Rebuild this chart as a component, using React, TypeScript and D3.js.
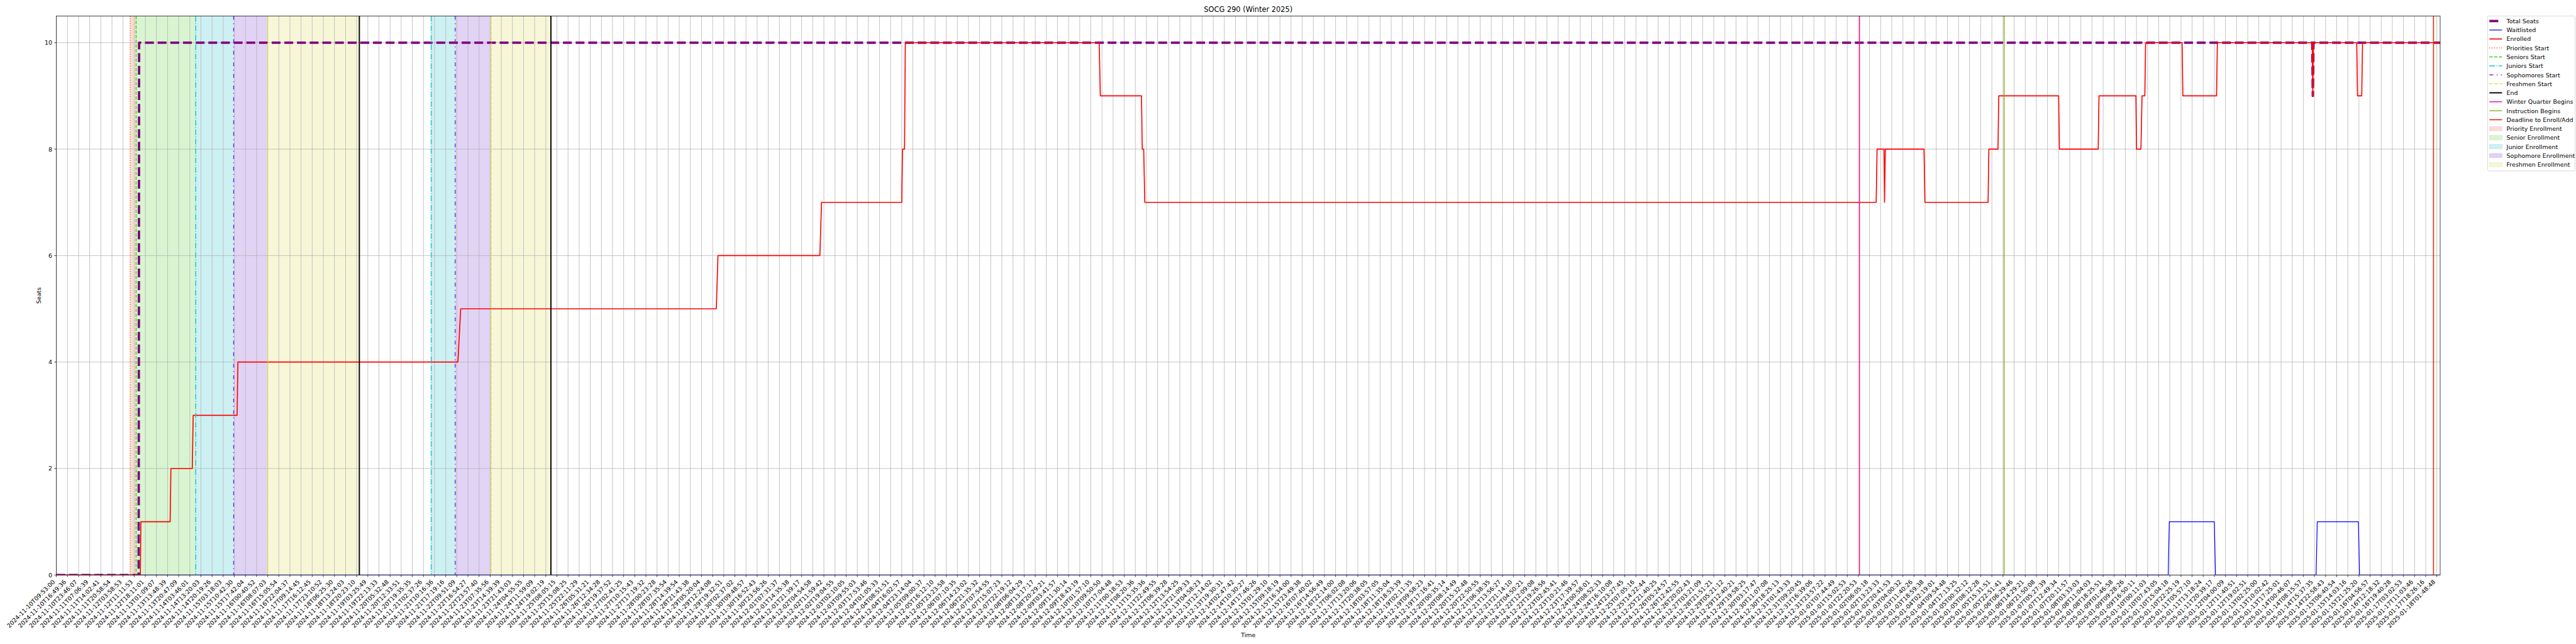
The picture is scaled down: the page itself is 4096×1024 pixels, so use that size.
import React, { useEffect, useRef } from "react";
import * as d3 from "d3";

// x tick labels, one per tick (ticks are evenly spaced sample positions)
const tickLabels = [
  "2024-11-10T09:53:00", "2024-11-10T16:49:36", "2024-11-10T23:46:07", "2024-11-11T07:06:39",
  "2024-11-11T14:02:41", "2024-11-11T20:58:54", "2024-11-12T03:58:53", "2024-11-12T11:11:53",
  "2024-11-12T18:11:01", "2024-11-13T01:09:07", "2024-11-13T13:48:39", "2024-11-13T20:47:09",
  "2024-11-14T03:46:01", "2024-11-14T13:20:03", "2024-11-14T20:19:26", "2024-11-15T03:18:03",
  "2024-11-15T10:42:30", "2024-11-15T17:42:04", "2024-11-16T00:40:52", "2024-11-16T08:07:03",
  "2024-11-16T15:05:54", "2024-11-16T22:04:37", "2024-11-17T09:14:45", "2024-11-17T16:12:45",
  "2024-11-17T23:10:52", "2024-11-18T06:25:30", "2024-11-18T13:24:03", "2024-11-18T20:23:10",
  "2024-11-19T03:25:49", "2024-11-19T22:13:33", "2024-11-20T05:32:48", "2024-11-20T12:33:51",
  "2024-11-20T19:35:35", "2024-11-21T02:37:26", "2024-11-21T10:16:36", "2024-11-21T17:19:16",
  "2024-11-22T09:51:09", "2024-11-22T16:54:27", "2024-11-22T23:57:40", "2024-11-23T07:35:56",
  "2024-11-23T14:39:39", "2024-11-23T21:43:03", "2024-11-24T04:55:55", "2024-11-24T11:59:09",
  "2024-11-24T19:02:19", "2024-11-25T08:05:15", "2024-11-25T15:08:25", "2024-11-25T22:11:29",
  "2024-11-26T05:31:21", "2024-11-26T12:34:28", "2024-11-26T19:37:52", "2024-11-27T02:41:25",
  "2024-11-27T10:15:43", "2024-11-27T17:19:32", "2024-11-28T00:23:28", "2024-11-28T07:35:54",
  "2024-11-28T14:39:54", "2024-11-28T21:43:38", "2024-11-29T05:20:04", "2024-11-29T12:24:08",
  "2024-11-29T19:32:51", "2024-11-30T02:37:02", "2024-11-30T09:48:57", "2024-11-30T16:52:43",
  "2024-11-30T23:56:26", "2024-12-01T07:31:37", "2024-12-01T14:35:38", "2024-12-01T21:39:17",
  "2024-12-02T04:54:58", "2024-12-02T11:59:42", "2024-12-02T19:04:55", "2024-12-03T02:10:05",
  "2024-12-03T09:55:03", "2024-12-03T17:53:46", "2024-12-04T01:05:33", "2024-12-04T08:51:51",
  "2024-12-04T16:02:57", "2024-12-04T23:14:04", "2024-12-05T09:00:37", "2024-12-05T16:12:10",
  "2024-12-05T23:23:58", "2024-12-06T07:10:35", "2024-12-06T14:23:02", "2024-12-06T21:35:32",
  "2024-12-07T07:54:55", "2024-12-07T15:07:23", "2024-12-07T22:19:12", "2024-12-08T06:04:29",
  "2024-12-08T13:17:17", "2024-12-08T20:29:21", "2024-12-09T03:41:57", "2024-12-09T11:30:14",
  "2024-12-09T18:43:19", "2024-12-10T01:57:10", "2024-12-10T09:50:50", "2024-12-10T17:04:48",
  "2024-12-11T00:18:53", "2024-12-11T08:20:36", "2024-12-11T15:35:36", "2024-12-11T22:49:55",
  "2024-12-12T06:39:28", "2024-12-12T13:54:25", "2024-12-12T21:09:33", "2024-12-13T04:58:23",
  "2024-12-13T12:14:02", "2024-12-13T19:30:31", "2024-12-14T02:47:42", "2024-12-14T10:30:27",
  "2024-12-14T17:46:26", "2024-12-15T01:29:10", "2024-12-15T09:18:19", "2024-12-15T16:34:00",
  "2024-12-15T23:49:38", "2024-12-16T07:40:02", "2024-12-16T14:56:49", "2024-12-16T22:14:00",
  "2024-12-17T06:02:08", "2024-12-17T13:20:06", "2024-12-17T20:38:05", "2024-12-18T03:57:05",
  "2024-12-18T11:35:04", "2024-12-18T18:53:39", "2024-12-19T02:11:35", "2024-12-19T09:58:23",
  "2024-12-19T17:16:41", "2024-12-20T00:35:14", "2024-12-20T08:14:49", "2024-12-20T15:32:48",
  "2024-12-20T22:50:55", "2024-12-21T06:38:35", "2024-12-21T13:56:27", "2024-12-21T21:14:10",
  "2024-12-22T04:50:21", "2024-12-22T12:09:08", "2024-12-22T19:26:56", "2024-12-23T02:45:41",
  "2024-12-23T10:21:46", "2024-12-23T17:39:57", "2024-12-24T00:58:01", "2024-12-24T08:52:33",
  "2024-12-24T16:10:08", "2024-12-24T23:27:45", "2024-12-25T07:05:16", "2024-12-25T14:22:44",
  "2024-12-25T21:40:25", "2024-12-26T05:24:57", "2024-12-26T12:42:55", "2024-12-26T20:02:43",
  "2024-12-27T03:21:09", "2024-12-28T21:51:21", "2024-12-29T05:21:12", "2024-12-29T12:40:21",
  "2024-12-29T19:58:25", "2024-12-30T03:17:47", "2024-12-30T11:07:08", "2024-12-30T18:25:13",
  "2024-12-31T01:43:33", "2024-12-31T09:20:45", "2024-12-31T16:39:06", "2024-12-31T23:57:22",
  "2025-01-01T07:44:49", "2025-01-01T15:02:53", "2025-01-01T22:20:53", "2025-01-02T06:05:18",
  "2025-01-02T13:23:33", "2025-01-02T20:41:53", "2025-01-03T04:00:32", "2025-01-03T11:40:26",
  "2025-01-03T18:59:38", "2025-01-04T02:19:01", "2025-01-04T09:54:48", "2025-01-04T17:13:25",
  "2025-01-05T00:32:12", "2025-01-05T08:12:28", "2025-01-05T15:31:51", "2025-01-05T22:51:41",
  "2025-01-06T06:29:46", "2025-01-06T14:29:21", "2025-01-06T21:50:08", "2025-01-07T05:27:39",
  "2025-01-07T12:49:34", "2025-01-07T20:11:57", "2025-01-08T03:33:03", "2025-01-08T11:04:03",
  "2025-01-08T18:25:51", "2025-01-09T01:46:58", "2025-01-09T09:28:26", "2025-01-09T16:50:11",
  "2025-01-10T00:11:03", "2025-01-10T07:43:05", "2025-01-10T15:04:18", "2025-01-10T22:25:19",
  "2025-01-11T05:57:10", "2025-01-11T13:18:24", "2025-01-11T20:39:17", "2025-01-12T04:00:09",
  "2025-01-12T11:40:51", "2025-01-12T19:02:51", "2025-01-13T02:25:00", "2025-01-13T10:02:42",
  "2025-01-13T17:25:01", "2025-01-14T00:46:07", "2025-01-14T08:15:57", "2025-01-14T15:37:35",
  "2025-01-14T22:58:43", "2025-01-15T06:40:54", "2025-01-15T14:03:16", "2025-01-15T21:25:20",
  "2025-01-16T04:56:57", "2025-01-16T12:18:32", "2025-01-16T19:40:28", "2025-01-17T03:02:53",
  "2025-01-17T11:03:46", "2025-01-17T18:26:16", "2025-01-18T01:48:48",
];

const yTicks = [0, 2, 4, 6, 8, 10];

// series: [position on x axis in tick units, seats]
const totalSeats = [
  [0, 0], [7.4, 0], [7.44, 10], [202.8, 10], [202.85, 9], [202.9, 10], [214.3, 10],
];

const waitlisted = [
  [0, 0], [189.85, 0], [189.95, 1], [194.0, 1], [194.1, 0],
  [203.15, 0], [203.25, 1], [206.95, 1], [207.05, 0], [214.3, 0],
];

const enrolled = [
  [0, 0], [7.55, 0], [7.6, 1], [10.23, 1], [10.3, 2], [12.22, 2], [12.3, 3],
  [16.25, 3], [16.32, 4], [36.1, 4], [36.35, 5], [59.33, 5], [59.48, 6],
  [68.64, 6], [68.79, 7], [76.0, 7], [76.07, 8], [76.25, 8], [76.32, 10],
  [93.75, 10], [93.85, 9], [97.55, 9], [97.62, 8], [97.75, 8], [97.85, 7],
  [163.6, 7], [163.68, 8], [164.3, 8], [164.35, 7], [164.42, 8], [167.9, 8],
  [167.98, 7], [173.66, 7], [173.73, 8], [174.55, 8], [174.62, 9], [180.0, 9],
  [180.07, 8], [183.56, 8], [183.63, 9], [186.95, 9], [187.0, 8], [187.4, 8],
  [187.5, 9], [187.75, 9], [187.82, 10], [191.1, 10], [191.17, 9], [194.2, 9],
  [194.27, 10], [202.8, 10], [202.85, 9], [202.9, 10], [206.8, 10], [206.87, 9],
  [207.25, 9], [207.32, 10], [214.3, 10],
];

// enrollment milestones (x positions in tick units)
const priorityStarts = [6.63];
const seniorStarts = [7.17];
const juniorStarts = [12.53, 33.7];
const sophomoreStarts = [15.94, 35.85];
const freshmenStarts = [19.0, 39.1];
const endMarks = [27.24, 44.46];
const winterQuarterBegins = [162.1];
const instructionBegins = [175.1];
const enrollDeadlines = [213.7];

const xMax = 214.3;
const yMax = 10.5;

const FONT = "'DejaVu Sans', sans-serif";

const lineStyles = {
  total: { color: "#800080", width: 5.56, dash: "20.6 8.9" },
  waitlisted: { color: "#0000ff", width: 1.8, dash: null },
  enrolled: { color: "#ff0000", width: 2.4, dash: null },
  priority: { color: "#f26b2a", width: 2.1, dash: "2.1 3.4" },
  senior: { color: "#3ccc14", width: 2.1, dash: "7.7 3.3" },
  junior: { color: "#16c2d2", width: 2.1, dash: "13.3 3.3 2.1 3.3" },
  sophomore: { color: "#6b2fd6", width: 2.1, dash: "9 8 2 8" },
  freshmen: { color: "#e4e034", width: 2.1, dash: "6.2 2.1 2.1 2.1" },
  end: { color: "#000000", width: 2.8, dash: null },
  winter: { color: "#e0119a", width: 2.1, dash: null },
  instruction: { color: "#8db21a", width: 2.1, dash: null },
  deadline: { color: "#d2431f", width: 2.6, dash: null },
};

const spanColors = {
  priority: "#f5ded4",
  senior: "#d9f4d1",
  junior: "#cdf0f3",
  sophomore: "#e1d3f4",
  freshmen: "#f7f7d8",
};

const App = () => {
  const svgRef = useRef(null);

  useEffect(() => {
    if (!svgRef.current) return;
    const svg = d3.select(svgRef.current);
    svg.selectAll("*").remove();

    const left = 131.25;
    const right = 5683.6;
    const top = 37.3;
    const bottom = 1339.3;

    const x = d3.scaleLinear().domain([0, xMax]).range([left, right]);
    const y = d3.scaleLinear().domain([0, yMax]).range([bottom, top]);

    svg.append("rect").attr("width", 6000).attr("height", 1500).attr("fill", "#ffffff");

    svg
      .append("clipPath")
      .attr("id", "plot-clip")
      .append("rect")
      .attr("x", left)
      .attr("y", top)
      .attr("width", right - left)
      .attr("height", bottom - top);

    const plot = svg.append("g").attr("clip-path", "url(#plot-clip)");

    // shaded enrollment windows
    const spans = [
      ...priorityStarts.map((s, i) => ({ key: "priority", a: s, b: seniorStarts[i] })),
      ...seniorStarts.map((s) => ({ key: "senior", a: s, b: juniorStarts[0] })),
      ...juniorStarts.map((s, i) => ({ key: "junior", a: s, b: sophomoreStarts[i] })),
      ...sophomoreStarts.map((s, i) => ({ key: "sophomore", a: s, b: freshmenStarts[i] })),
      ...freshmenStarts.map((s, i) => ({ key: "freshmen", a: s, b: endMarks[i] })),
    ];
    plot
      .selectAll("rect.span")
      .data(spans)
      .enter()
      .append("rect")
      .attr("class", "span")
      .attr("x", (d) => x(d.a))
      .attr("width", (d) => x(d.b) - x(d.a))
      .attr("y", top)
      .attr("height", bottom - top)
      .attr("fill", (d) => spanColors[d.key]);

    // grid
    const xTickPos = tickLabels.map((_, i) => i);
    plot
      .selectAll("line.vgrid")
      .data(xTickPos)
      .enter()
      .append("line")
      .attr("x1", (d) => x(d))
      .attr("x2", (d) => x(d))
      .attr("y1", top)
      .attr("y2", bottom)
      .attr("stroke", "#b0b0b0")
      .attr("stroke-width", 1.1);
    plot
      .selectAll("line.hgrid")
      .data(yTicks)
      .enter()
      .append("line")
      .attr("x1", left)
      .attr("x2", right)
      .attr("y1", (d) => y(d))
      .attr("y2", (d) => y(d))
      .attr("stroke", "#b0b0b0")
      .attr("stroke-width", 1.1);

    const line = d3
      .line()
      .x((d) => x(d[0]))
      .y((d) => y(d[1]));

    const drawSeries = (data, st) => {
      const p = plot
        .append("path")
        .datum(data)
        .attr("fill", "none")
        .attr("stroke", st.color)
        .attr("stroke-width", st.width)
        .attr("stroke-linejoin", "round")
        .attr("d", line);
      if (st.dash) p.attr("stroke-dasharray", st.dash);
    };
    drawSeries(totalSeats, lineStyles.total);
    drawSeries(waitlisted, lineStyles.waitlisted);
    drawSeries(enrolled, lineStyles.enrolled);

    // vertical milestone lines
    const vlines = [
      [priorityStarts, "priority"],
      [seniorStarts, "senior"],
      [juniorStarts, "junior"],
      [sophomoreStarts, "sophomore"],
      [freshmenStarts, "freshmen"],
      [endMarks, "end"],
      [winterQuarterBegins, "winter"],
      [instructionBegins, "instruction"],
      [enrollDeadlines, "deadline"],
    ];
    vlines.forEach(([arr, key]) => {
      const st = lineStyles[key];
      arr.forEach((v) => {
        const l = plot
          .append("line")
          .attr("x1", x(v))
          .attr("x2", x(v))
          .attr("y1", top)
          .attr("y2", bottom)
          .attr("stroke", st.color)
          .attr("stroke-width", st.width);
        if (st.dash) l.attr("stroke-dasharray", st.dash);
      });
    });

    // spines
    svg
      .append("rect")
      .attr("x", left)
      .attr("y", top)
      .attr("width", right - left)
      .attr("height", bottom - top)
      .attr("fill", "none")
      .attr("stroke", "#000")
      .attr("stroke-width", 1.1);

    // x ticks and labels
    const xt = svg.append("g");
    xt.selectAll("line")
      .data(xTickPos)
      .enter()
      .append("line")
      .attr("x1", (d) => x(d))
      .attr("x2", (d) => x(d))
      .attr("y1", bottom)
      .attr("y2", bottom + 4.86)
      .attr("stroke", "#000")
      .attr("stroke-width", 1.1);
    xt.selectAll("text")
      .data(tickLabels)
      .enter()
      .append("text")
      .attr("transform", (_, i) => {
        const ax = x(i) - 2.3;
        const ay = bottom + 17.2;
        return `translate(${ax},${ay}) rotate(-45)`;
      })
      .attr("text-anchor", "end")
      .style("font-family", FONT)
      .style("font-size", "13.9px")
      .attr("fill", "#000")
      .text((d) => d);

    // y ticks and labels
    const yt = svg.append("g");
    yt.selectAll("line")
      .data(yTicks)
      .enter()
      .append("line")
      .attr("x1", left - 4.86)
      .attr("x2", left)
      .attr("y1", (d) => y(d))
      .attr("y2", (d) => y(d))
      .attr("stroke", "#000")
      .attr("stroke-width", 1.1);
    yt.selectAll("text")
      .data(yTicks)
      .enter()
      .append("text")
      .attr("x", left - 9.7)
      .attr("y", (d) => y(d) + 5.1)
      .attr("text-anchor", "end")
      .style("font-family", FONT)
      .style("font-size", "13.9px")
      .text((d) => d);

    // axis labels and title
    svg
      .append("text")
      .attr("x", (left + right) / 2)
      .attr("y", 1483.5)
      .attr("text-anchor", "middle")
      .style("font-family", FONT)
      .style("font-size", "13.9px")
      .text("Time");
    svg
      .append("text")
      .attr("transform", `translate(95,${(top + bottom) / 2}) rotate(-90)`)
      .attr("text-anchor", "middle")
      .style("font-family", FONT)
      .style("font-size", "13.9px")
      .text("Seats");
    svg
      .append("text")
      .attr("x", (left + right) / 2)
      .attr("y", 28.5)
      .attr("text-anchor", "middle")
      .style("font-family", FONT)
      .style("font-size", "16.7px")
      .text("SOCG 290 (Winter 2025)");

    // legend
    const legendItems = [
      { label: "Total Seats", key: "total", patch: false },
      { label: "Waitlisted", key: "waitlisted", patch: false },
      { label: "Enrolled", key: "enrolled", patch: false },
      { label: "Priorities Start", key: "priority", patch: false },
      { label: "Seniors Start", key: "senior", patch: false },
      { label: "Juniors Start", key: "junior", patch: false },
      { label: "Sophomores Start", key: "sophomore", patch: false },
      { label: "Freshmen Start", key: "freshmen", patch: false },
      { label: "End", key: "end", patch: false },
      { label: "Winter Quarter Begins", key: "winter", patch: false },
      { label: "Instruction Begins", key: "instruction", patch: false },
      { label: "Deadline to Enroll/Add", key: "deadline", patch: false },
      { label: "Priority Enrollment", key: "priority", patch: true },
      { label: "Senior Enrollment", key: "senior", patch: true },
      { label: "Junior Enrollment", key: "junior", patch: true },
      { label: "Sophomore Enrollment", key: "sophomore", patch: true },
      { label: "Freshmen Enrollment", key: "freshmen", patch: true },
    ];
    const lg = svg.append("g");
    lg.append("rect")
      .attr("x", 5794.3)
      .attr("y", 37.3)
      .attr("width", 203.5)
      .attr("height", 361)
      .attr("rx", 3)
      .attr("fill", "#ffffff")
      .attr("fill-opacity", 0.8)
      .attr("stroke", "#cccccc")
      .attr("stroke-width", 1.1);
    const rowY = d3
      .scaleLinear()
      .domain([0, legendItems.length - 1])
      .range([49, 383.3]);
    legendItems.forEach((it, i) => {
      const cy = rowY(i);
      if (it.patch) {
        lg.append("rect")
          .attr("x", 5798.3)
          .attr("y", cy - 5)
          .attr("width", 29.4)
          .attr("height", 10)
          .attr("fill", spanColors[it.key])
          .attr("stroke", d3.color(spanColors[it.key]).darker(0.15).formatHex())
          .attr("stroke-width", 1);
      } else {
        const st = lineStyles[it.key];
        const l = lg
          .append("line")
          .attr("x1", 5798.3)
          .attr("x2", 5827.7)
          .attr("y1", cy)
          .attr("y2", cy)
          .attr("stroke", st.color)
          .attr("stroke-width", st.width);
        if (st.dash) l.attr("stroke-dasharray", st.dash);
      }
      lg.append("text")
        .attr("x", 5838.3)
        .attr("y", cy + 5.1)
        .style("font-family", FONT)
        .style("font-size", "13.9px")
        .text(it.label);
    });
  }, []);

  return (
    <svg
      ref={svgRef}
      width={4096}
      height={1024}
      viewBox="0 0 6000 1500"
      style={{ position: "absolute", left: 0, top: 0, display: "block" }}
    ></svg>
  );
};

export default App;
